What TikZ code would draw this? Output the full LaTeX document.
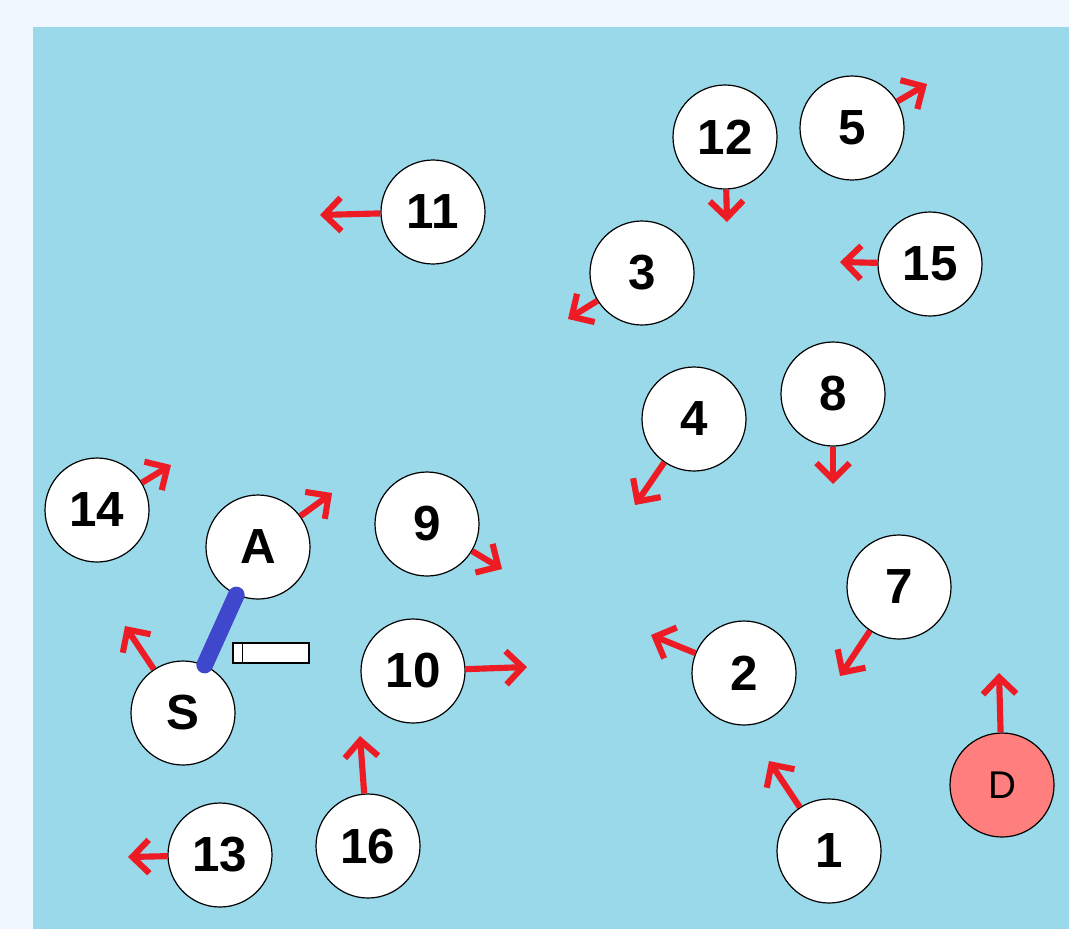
\documentclass[tikz,border=0pt]{standalone}
\usepackage{fontspec}
\setmainfont{Liberation Sans}
\usetikzlibrary{arrows.meta}
\definecolor{pagebg}{RGB}{240,247,255}
\definecolor{fieldbg}{RGB}{153,217,234}
\definecolor{arrowred}{RGB}{237,28,36}
\definecolor{linkblue}{RGB}{63,72,204}
\definecolor{destpink}{RGB}{255,127,127}
\begin{document}
\begin{tikzpicture}[x=0.75pt,y=-0.75pt,
    peer/.style={circle,draw=black,line width=0.9pt,fill=white,minimum size=78pt,inner sep=0pt,font=\fontsize{37}{40}\selectfont\bfseries},
    dest/.style={peer,fill=destpink,font=\fontsize{29}{32}\selectfont},
    mv/.style={draw=arrowred,line width=4.6pt,-{Straight Barb[length=12.5pt,width=25pt]}},
    link/.style={draw=linkblue,line width=12.5pt,line cap=round}]
    \useasboundingbox (0,0) rectangle (1069,929);
    \fill[pagebg] (0,0) rectangle (1069,929);
    \fill[fieldbg] (33,27) rectangle (1069,929);
    \node[peer] (n12) at (725,137) {12};
    \node[peer] (n5) at (852,128) {5};
    \node[peer] (n11) at (433,212) {11};
    \node[peer] (n3) at (642,273) {3};
    \node[peer] (n15) at (930,264) {15};
    \node[peer] (n4) at (694,419) {4};
    \node[peer] (n8) at (833,394) {8};
    \node[peer] (n14) at (97,510) {14};
    \node[peer] (nA) at (258,547) {A};
    \node[peer] (n9) at (427,524) {9};
    \node[peer] (n7) at (899,587) {7};
    \node[peer] (n2) at (744,673) {2};
    \node[peer] (n10) at (413,671) {10};
    \node[peer] (nS) at (183,713) {S};
    \node[dest] (nD) at (1002,785) {D};
    \node[peer] (n16) at (368,846) {16};
    \node[peer] (n13) at (220,855) {13};
    \node[peer] (n1) at (829,851) {1};
    \node[draw=black,line width=0.9pt,fill=white,minimum width=57pt,minimum height=15pt,inner sep=0pt] (bar) at (271,653) {};
    \draw[line width=0.9pt] ([xshift=7.5pt]bar.north west) -- ([xshift=7.5pt]bar.south west);
    \draw[link] (nA) -- (nS);
    \coordinate (t12) at (727,222);
    \coordinate (t5) at (927,84);
    \coordinate (t11) at (320,215);
    \coordinate (t3) at (568,319);
    \coordinate (t15) at (840,262);
    \coordinate (t4) at (635,505);
    \coordinate (t8) at (833,484);
    \coordinate (t14) at (171,465);
    \coordinate (tA) at (332,493);
    \coordinate (t9) at (502,569);
    \coordinate (t7) at (840,676);
    \coordinate (t2) at (651,635);
    \coordinate (t10) at (527,667);
    \coordinate (tS) at (125,626);
    \coordinate (tD) at (999,673);
    \coordinate (t16) at (360,736);
    \coordinate (t13) at (128,857);
    \coordinate (t1) at (769,761);
    \draw[mv] (n12) -- (t12);
    \draw[mv] (n5) -- (t5);
    \draw[mv] (n11) -- (t11);
    \draw[mv] (n3) -- (t3);
    \draw[mv] (n15) -- (t15);
    \draw[mv] (n4) -- (t4);
    \draw[mv] (n8) -- (t8);
    \draw[mv] (n14) -- (t14);
    \draw[mv] (nA) -- (tA);
    \draw[mv] (n9) -- (t9);
    \draw[mv] (n7) -- (t7);
    \draw[mv] (n2) -- (t2);
    \draw[mv] (n10) -- (t10);
    \draw[mv] (nS) -- (tS);
    \draw[mv] (nD) -- (tD);
    \draw[mv] (n16) -- (t16);
    \draw[mv] (n13) -- (t13);
    \draw[mv] (n1) -- (t1);
\end{tikzpicture}
\end{document}
